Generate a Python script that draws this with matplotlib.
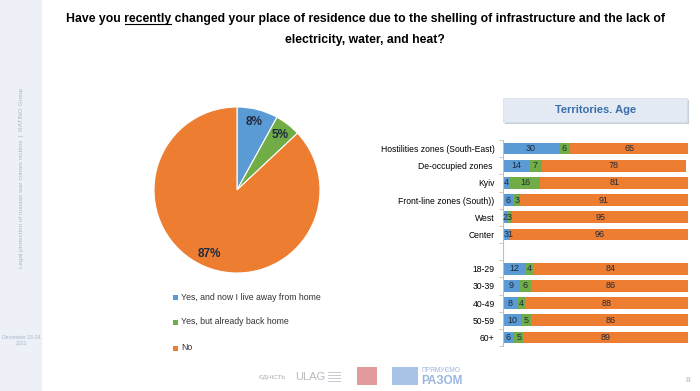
import matplotlib
matplotlib.use("Agg")
import matplotlib.pyplot as plt
from matplotlib import font_manager
from matplotlib.patches import Rectangle, FancyBboxPatch
import numpy as np

# ---------------- data ----------------
title_line1 = "Have you recently changed your place of residence due to the shelling of infrastructure and the lack of"
title_line2 = "electricity, water, and heat?"
underlined_word = "recently"

pie_labels = ["Yes, and now I live away from home", "Yes, but already back home", "No"]
pie_values = [8, 5, 87]

categories = ["Hostilities zones (South-East)", "De-occupied zones ", "Kyiv", "Front-line zones (South))",
              "West", "Center", "", "18-29", "30-39", "40-49", "50-59", "60+"]
yes_away = [30, 14, 4, 6, 2, 3, None, 12, 9, 8, 10, 6]
yes_back = [6, 7, 16, 3, 3, 1, None, 4, 6, 4, 5, 5]
no_vals = [65, 78, 81, 91, 95, 96, None, 84, 86, 88, 86, 89]

panel_title = "Territories. Age"
side_text = "Legal protection of russian war crimes victims  |  RATING Group"
date_text = "December 23-26,\n2022"
page_num = "8"

# ---------------- style ----------------
names = {f.name for f in font_manager.fontManager.ttflist}
NARROW = "Liberation Sans Narrow" if "Liberation Sans Narrow" in names else "Liberation Sans"
plt.rcParams["font.family"] = [NARROW, "DejaVu Sans"]

BLUE = "#5b9bd5"
GREEN = "#70ad47"
ORANGE = "#ed7d31"
DARK = "#1f2a3c"
TFS = 8.8

W, H = 700, 391
fig = plt.figure(figsize=(7, 3.91), dpi=100)
fig.patch.set_facecolor("white")


def fx(x):
    return x / W


def fy(y):
    return 1 - y / H


# sidebar
fig.patches.append(Rectangle((0, 0), fx(42), 1, transform=fig.transFigure,
                             facecolor="#edf1f7", edgecolor="none", zorder=0))
fig.text(fx(22), fy(178), side_text, rotation=90, ha="center", va="center",
         fontsize=4.6, color="#a8b6ca")
fig.text(fx(21.5), fy(340), date_text, ha="center", va="center", fontsize=3.7,
         color="#a8b6ca", linespacing=1.4)

# title
t1 = fig.text(fx(365), fy(19), title_line1, ha="center", va="center",
              fontsize=TFS, fontweight="bold", color="black")
fig.text(fx(365), fy(40), title_line2, ha="center", va="center",
         fontsize=TFS, fontweight="bold", color="black")
fig.canvas.draw()
r = fig.canvas.get_renderer()
bb = t1.get_window_extent(r)
pre = title_line1.split(underlined_word)[0]
tmp = fig.text(0, 0, pre, fontsize=TFS, fontweight="bold")
w_pre = tmp.get_window_extent(r).width
tmp.remove()
tmp = fig.text(0, 0, pre + underlined_word, fontsize=TFS, fontweight="bold")
w_full = tmp.get_window_extent(r).width
tmp.remove()
x0 = bb.x0 + w_pre + 1
x1 = bb.x0 + w_full
uy = bb.y0 + 1
fig.add_artist(plt.Line2D([x0 / W, x1 / W], [uy / H, uy / H], transform=fig.transFigure,
                          color="black", lw=0.8))

# ---------------- pie ----------------
axp = fig.add_axes([fx(154), fy(273), fx(166), 166 / H])
wedges, texts, autotexts = axp.pie(pie_values, colors=[BLUE, GREEN, ORANGE], startangle=90,
                                   counterclock=False, autopct="%d%%", pctdistance=0.84,
                                   wedgeprops=dict(linewidth=0.8, edgecolor="white"))
for at in autotexts:
    at.set_fontsize(8.5)
    at.set_fontweight("bold")
    at.set_color(DARK)
axp.set_xlim(-1, 1)
axp.set_ylim(-1, 1)
axp.set_aspect("equal")

# pie legend
leg_y = [297, 322, 348]
for lab, col, yy in zip(pie_labels, [BLUE, GREEN, ORANGE], leg_y):
    fig.patches.append(Rectangle((fx(173), fy(yy) - 2.5 / H), 5 / W, 5 / H,
                                 transform=fig.transFigure, facecolor=col, edgecolor="none"))
    fig.text(fx(181), fy(yy), lab, ha="left", va="center", fontsize=6.3, color="#333333")

# ---------------- panel title ----------------
fig.patches.append(FancyBboxPatch((fx(505), fy(124)), fx(184), 24 / H,
                                  boxstyle="square,pad=0", transform=fig.transFigure,
                                  facecolor="#b8c4d4", edgecolor="none", alpha=0.8))
fig.patches.append(FancyBboxPatch((fx(503), fy(122)), fx(184), 24 / H,
                                  boxstyle="square,pad=0", transform=fig.transFigure,
                                  facecolor="#e3eaf4", edgecolor="#d5dde8", lw=0.5))
fig.text(fx(596), fy(110), panel_title, ha="center", va="center", fontsize=8,
         fontweight="bold", color="#3a6fa8")

# ---------------- bars ----------------
axb = fig.add_axes([fx(503), fy(346), fx(185), 206 / H])
n = len(categories)
y = np.arange(n)
for i in range(n):
    if yes_away[i] is None:
        continue
    a, b, c = yes_away[i], yes_back[i], no_vals[i]
    axb.barh(i, a, left=0, height=0.68, color=BLUE)
    axb.barh(i, b, left=a, height=0.68, color=GREEN)
    axb.barh(i, c, left=a + b, height=0.68, color=ORANGE)
    for val, left in [(a, 0), (b, a), (c, a + b)]:
        axb.text(left + val / 2, i, str(val), ha="center", va="center",
                 fontsize=6.5, color=DARK)
axb.set_xlim(0, 100)
axb.set_ylim(n - 0.5, -0.5)
axb.set_yticks(y)
axb.set_yticklabels(categories, fontsize=6.2, color="black")
axb.set_yticks(np.arange(-0.5, n, 1), minor=True)
axb.tick_params(axis="y", which="major", length=0, pad=6)
axb.tick_params(axis="y", which="minor", length=3, color="#bfbfbf", width=0.6)
axb.set_xticks([])
for s in ["top", "right", "bottom"]:
    axb.spines[s].set_visible(False)
axb.spines["left"].set_color("#bfbfbf")
axb.spines["left"].set_linewidth(0.8)
axb.patch.set_alpha(0)

# ---------------- footer ----------------
fig.text(fx(272), fy(378), "ЄДНІСТЬ", ha="center", va="center", fontsize=4.5, color="#b0a8b8")
fig.text(fx(310), fy(377), "ULAG", ha="center", va="center", fontsize=8, color="#b8b8c0")
for k in range(4):
    fig.add_artist(plt.Line2D([fx(328), fx(340)], [fy(372 + k * 3)] * 2,
                              transform=fig.transFigure, color="#c8c8d0", lw=0.7))
fig.patches.append(Rectangle((fx(357), fy(385)), fx(20), 18 / H, transform=fig.transFigure,
                             facecolor="#e39a9a", edgecolor="none"))
fig.patches.append(Rectangle((fx(392), fy(385)), fx(26), 18 / H, transform=fig.transFigure,
                             facecolor="#a9c3e6", edgecolor="none"))
fig.text(fx(422), fy(371), "ПРЯМУЄМО", ha="left", va="center", fontsize=4.8, color="#9bb6de")
fig.text(fx(421), fy(381), "РАЗОМ", ha="left", va="center", fontsize=8.5,
         fontweight="bold", color="#9bb6de")
fig.text(fx(688), fy(381), page_num, ha="center", va="center", fontsize=6, color="#b0b0b0")

fig.savefig("out.png", dpi=100, facecolor="white")
